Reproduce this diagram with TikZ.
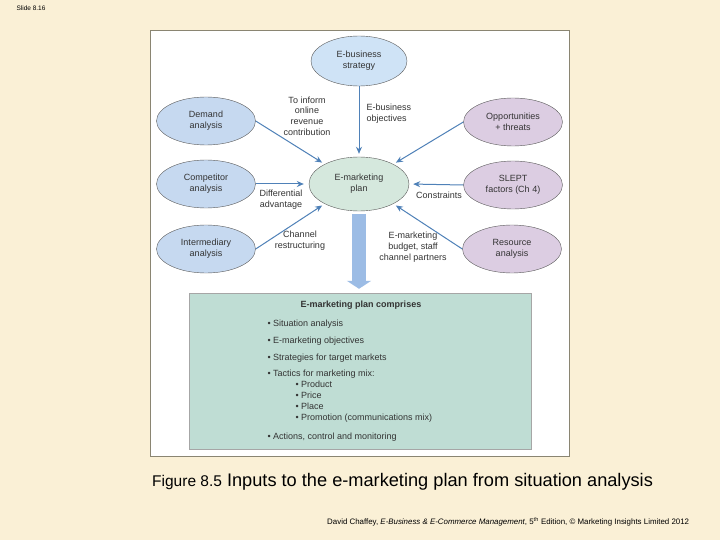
\documentclass[tikz,border=0pt]{standalone}
\usepackage{fontspec}
\setmainfont{Liberation Sans}
\usepackage{tikz}
\usetikzlibrary{shapes.geometric,arrows.meta,positioning}
\definecolor{slidebg}{HTML}{FAF0D6}
\definecolor{framegray}{HTML}{8A8572}
\definecolor{inputblue}{HTML}{C6D9F0}
\definecolor{topblue}{HTML}{CFE3F6}
\definecolor{plangreen}{HTML}{D5E8DD}
\definecolor{lilac}{HTML}{DCCDE2}
\definecolor{boxgreen}{HTML}{BFDDD4}
\definecolor{arrowblue}{HTML}{4F81B8}
\definecolor{fatblue}{HTML}{9CBCE5}

\begin{document}
\begin{tikzpicture}[x=1pt,y=-1pt,
    every node/.style={font=\fontsize{9}{10.8}\selectfont,text=black!80},
    bubble/.style={ellipse,draw=gray!70!black,line width=0.4pt,minimum width=99pt,minimum height=48pt,inner sep=0pt,align=center},
    input/.style={bubble,fill=inputblue},
    outside/.style={bubble,fill=lilac},
    flow/.style={-{Stealth[length=7pt,width=6pt]},arrowblue,line width=1pt,shorten >=3pt},
    note/.style={align=center},
    item/.style={anchor=base west}]
      % slide and figure panel
      \fill[slidebg] (0,0) rectangle (720,540);
      \draw[framegray,fill=white,line width=0.8pt] (150,30) rectangle (569,456);
      \node[anchor=west,font=\fontsize{6.5}{7}\selectfont,text=black] (slide) at (13,8) {Slide 8.16};

      % situation analysis inputs
      \node[bubble,fill=topblue,minimum width=96pt,minimum height=50pt] (strategy) at (359,61) {E-business\\strategy};
      \node[bubble,fill=plangreen,minimum width=100pt,minimum height=54pt] (plan) at (359,184) {E-marketing\\plan};
      \node[input] (demand) at (206,121) {Demand\\analysis};
      \node[input] (competitor) at (206,184) {Competitor\\analysis};
      \node[input] (intermediary) at (206,249) {Intermediary\\analysis};
      \node[outside] (opportunities) at (513,122) {Opportunities\\+ threats};
      \node[outside] (slept) at (513,185) {SLEPT\\factors (Ch 4)};
      \node[outside] (resource) at (512,249) {Resource\\analysis};

      \draw[flow] (strategy.south) -- (plan.north);
      \draw[flow] (demand.east) -- (plan.150);
      \draw[flow] (opportunities.west) -- (plan.30);
      \draw[flow,shorten >=5pt] (competitor.east) -- (plan.west);
      \draw[flow,shorten >=4pt] (slept.west) -- (plan.east);
      \draw[flow] (intermediary.east) -- (plan.210);
      \draw[flow] (resource.west) -- (plan.330);

      % connector labels
      \node[note] (inform) at (307,116) {To inform\\online\\revenue\\contribution};
      \node[align=left,anchor=west] (objectives) at (363,114) {E-business\\objectives};
      \node[note] (differential) at (281,200) {Differential\\advantage};
      \node[note] (constraints) at (439,195) {Constraints};
      \node[note] (channel) at (300,241) {Channel\\restructuring};
      \node[note] (budget) at (413,247) {E-marketing\\budget, staff\\channel partners};

      % the plan itself
      \node[draw=gray!70,fill=boxgreen,minimum width=342pt,minimum height=156pt,inner sep=0pt] (comprises) at (360,371) {};
      \draw[-{Triangle[width=24pt,length=8pt]},fatblue,line width=14pt,shorten <=3pt,shorten >=4pt] (plan.south) -- (plan.south |- comprises.north);
      \node[font=\fontsize{9}{10.8}\bfseries] (title) at (361,305) {E-marketing plan comprises};
      \foreach \y/\t in {326/Situation analysis,343/E-marketing objectives,360/Strategies for target markets,
          376/Tactics for marketing mix:,439/{Actions, control and monitoring}}
        \node[item] at (264,\y) {\textbullet\ \t};
      \foreach \y/\t in {387/Product,398/Price,409/Place,420/Promotion (communications mix)}
        \node[item] at (292,\y) {\textbullet\ \t};

      % caption and source
      \node[anchor=base west,inner sep=0pt,text=black,font=\fontsize{18.2}{20}\selectfont] (caption) at (152,486)
        {{\fontsize{15.5}{18}\selectfont Figure 8.5} Inputs to the e-marketing plan from situation analysis};
      \node[anchor=base west,inner sep=0pt,text=black,font=\fontsize{7.9}{9}\selectfont] (source) at (327,524)
        {David Chaffey, \emph{E-Business \& E-Commerce Management}, 5\textsuperscript{th} Edition, \textcopyright\ Marketing Insights Limited 2012};
\end{tikzpicture}
\end{document}
